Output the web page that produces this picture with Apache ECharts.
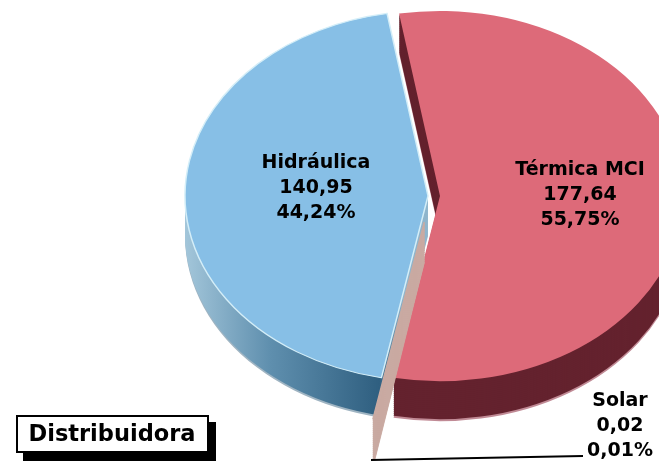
<!DOCTYPE html>
<html>
<head>
<meta charset="utf-8">
<style>
html, body { margin: 0; padding: 0; background: #fff; }
#chart { width: 659px; height: 462px; }
</style>
<script src="https://cdn.jsdelivr.net/npm/echarts@6/dist/echarts.min.js"></script>
</head>
<body>
<div id="chart"></div>
<script>
var names = ['Térmica MCI', 'Solar', 'Hidráulica'];
var values = [177.64, 0.02, 140.95];
var percents = [55.75, 0.01, 44.24];
var topColors = ['#dd6a79', '#c9aaa2', '#87bfe6'];
var title = 'Distribuidora';

// geometria da pizza "3D"
var CX = 434, CY = 196, RADIUS = 243, SQUASH = 0.762, DEPTH = 38;
var START_DEG = 260.3, MIN_DEG = 0.45;
var explode = [6, 35, 6];
var shiftX = [0, -3, 0];
var extraR = [0, 20, 0];
var drawOrder = [0, 2, 1];
var labelPos = [[580, 195], [620, 426], [316, 188]];
var wallColors = [
    '#64222e',
    '#c9aaa2',
    new echarts.graphic.LinearGradient(0, 0, 1, 0, [
        { offset: 0, color: '#a3c6da' },
        { offset: 0.35, color: '#5f8fae' },
        { offset: 0.8, color: '#2f5f80' },
        { offset: 0.9, color: '#8fb5cc' },
        { offset: 1, color: '#8fb5cc' }
    ])
];
var rimColors = ['#c08a95', '#c9aaa2', '#9fb4c2'];
var edgeColors = ['#dd6a79', '#c9aaa2', '#d4eef8'];

function fmt(v) {
    return v.toFixed(2).replace('.', ',');
}

var total = values.reduce(function(a, b) { return a + b; }, 0);
var angles = [];
var acc = START_DEG;
values.forEach(function(v) {
    var sweep = v / total * 360;
    angles.push({ start: acc, end: acc + sweep });
    acc += sweep;
});

function renderSlice(params, api) {
    var i = api.value(0);
    var a = angles[i];
    var start = a.start, end = a.end;
    if (end - start < MIN_DEG) {
        var c = (start + end) / 2;
        start = c - MIN_DEG / 2;
        end = c + MIN_DEG / 2;
    }
    var mid = (start + end) / 2 * Math.PI / 180;
    var x = CX + shiftX[i] + explode[i] * Math.cos(mid);
    var y = CY + explode[i] * Math.sin(mid) * SQUASH;
    var sector = function(dy, fill, stroke, lw) {
        return {
            type: 'sector',
            x: x,
            y: y + dy,
            scaleY: SQUASH,
            shape: {
                cx: 0, cy: 0, r0: 0, r: RADIUS + extraR[i],
                startAngle: start * Math.PI / 180,
                endAngle: end * Math.PI / 180,
                clockwise: true
            },
            style: { fill: fill, stroke: stroke, lineWidth: lw }
        };
    };
    var children = [sector(DEPTH + 2, rimColors[i], rimColors[i], i === 1 ? 1 : 0)];
    for (var d = DEPTH; d > 0; d -= 2) {
        children.push(sector(d, wallColors[i], i === 1 ? wallColors[i] : null, i === 1 ? 1 : 0));
    }
    children.push(sector(0, topColors[i], edgeColors[i], i === 0 ? 0 : 1.5));
    return { type: 'group', children: children };
}

function renderLabel(params, api) {
    var i = api.value(0);
    return {
        type: 'text',
        x: labelPos[i][0],
        y: labelPos[i][1],
        style: {
            text: names[i] + '\n' + fmt(values[i]) + '\n' + fmt(percents[i]) + '%',
            fill: '#000',
            font: 'bold 19px "DejaVu Sans"',
            lineHeight: 25,
            align: 'center',
            verticalAlign: 'middle'
        }
    };
}

var chart = echarts.init(document.getElementById('chart'), null, { renderer: 'canvas' });
var idx = drawOrder.map(function(i) { return [i]; });
chart.setOption({
    animation: false,
    backgroundColor: '#fff',
    series: [
        { type: 'custom', coordinateSystem: 'none', renderItem: renderSlice, data: idx, silent: true, z: 1 },
        { type: 'custom', coordinateSystem: 'none', renderItem: renderLabel, data: idx, silent: true, z: 3 }
    ],
    graphic: [
        // linha guia do rótulo Solar
        { type: 'line', z: 2, shape: { x1: 371, y1: 460, x2: 583, y2: 456 }, style: { stroke: '#000', lineWidth: 2 } },
        // caixa com sombra
        { type: 'rect', z: 4, shape: { x: 23, y: 422, width: 193, height: 39 }, style: { fill: '#000' } },
        { type: 'rect', z: 5, shape: { x: 17, y: 416, width: 191, height: 36 }, style: { fill: '#fff', stroke: '#000', lineWidth: 2 } },
        { type: 'text', z: 6, x: 112, y: 435, style: { text: title, fill: '#000', font: 'bold 22.5px "DejaVu Sans"', align: 'center', verticalAlign: 'middle' } }
    ]
});
</script>
</body>
</html>
